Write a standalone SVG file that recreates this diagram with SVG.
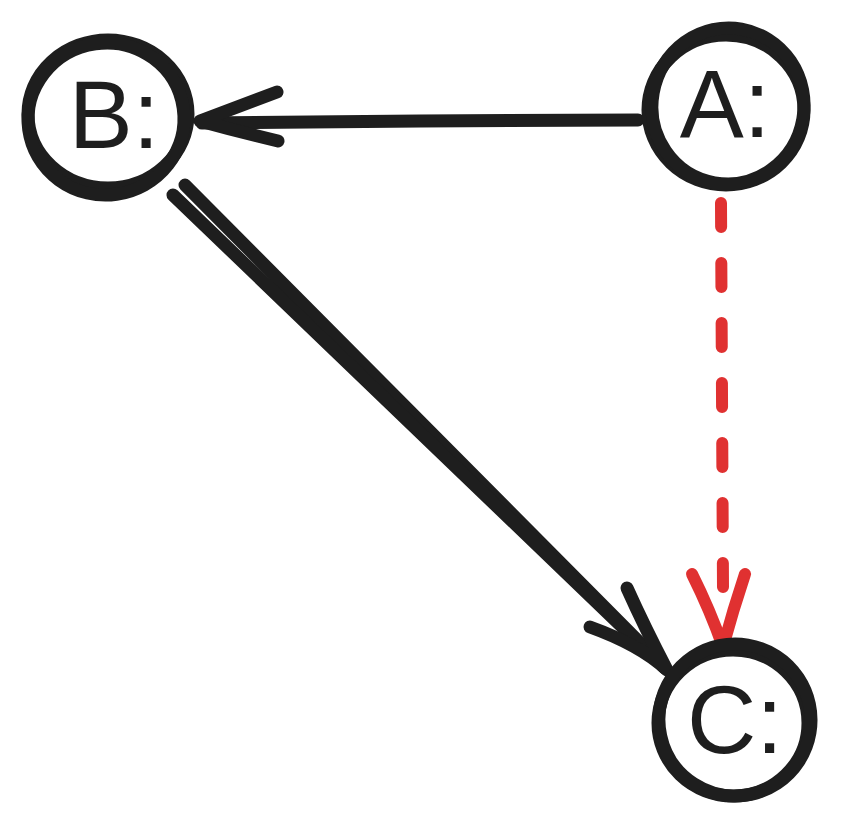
<svg xmlns="http://www.w3.org/2000/svg" width="844" height="833" viewBox="0 0 844 833">
<style>
.ring{fill:none;stroke:#1e1e1e;stroke-width:13;stroke-linecap:round;stroke-linejoin:round}
.lbl{font-family:"Liberation Sans",Arial,sans-serif;font-size:96px;fill:#1e1e1e;text-anchor:middle}
.blk{fill:none;stroke:#1e1e1e;stroke-width:13;stroke-linecap:round;stroke-linejoin:round}
.red{fill:none;stroke:#e03131;stroke-width:12;stroke-linecap:round;stroke-linejoin:round}
</style>
<rect width="844" height="833" fill="#ffffff"/>
<g id="connectors">
  <g id="edge-A-B">
    <path class="blk" stroke-width="15" d="M638 120 L420 121 L202 123"/>
    <path class="blk" d="M277 92 Q240 106 200 121 Q240 132 278 141"/>
  </g>
  <g id="edge-B-C">
    <path class="blk" stroke-width="12" d="M185 185 L665 668"/>
    <path class="blk" stroke-width="12" d="M173 195 L665 668"/>
    <path class="blk" stroke-width="12" d="M590 627 Q640 645 667 670 Q645 628 627 588"/>
  </g>
  <g id="edge-A-C">
    <path class="red" stroke-dasharray="24 36" d="M721 203 L723 588"/>
    <path class="red" d="M692 574 Q710 610 723 647 Q733 610 745 574"/>
  </g>
</g>
<g id="node-B">
  <ellipse class="ring" cx="108" cy="114" rx="80" ry="74"/>
  <ellipse class="ring" cx="106" cy="119" rx="78" ry="76" transform="rotate(-8 106 119)"/>
  <text class="lbl" x="114" y="148">B:</text>
</g>
<g id="node-A">
  <ellipse class="ring" cx="726" cy="110" rx="78" ry="75"/>
  <ellipse class="ring" cx="728" cy="106" rx="76" ry="78" transform="rotate(10 728 106)"/>
  <text class="lbl" x="725" y="137">A:</text>
</g>
<g id="node-C">
  <ellipse class="ring" cx="733" cy="723" rx="75" ry="73"/>
  <ellipse class="ring" cx="735" cy="720" rx="76" ry="76" transform="rotate(-12 735 720)"/>
  <text class="lbl" x="735" y="753">C:</text>
</g>
</svg>
